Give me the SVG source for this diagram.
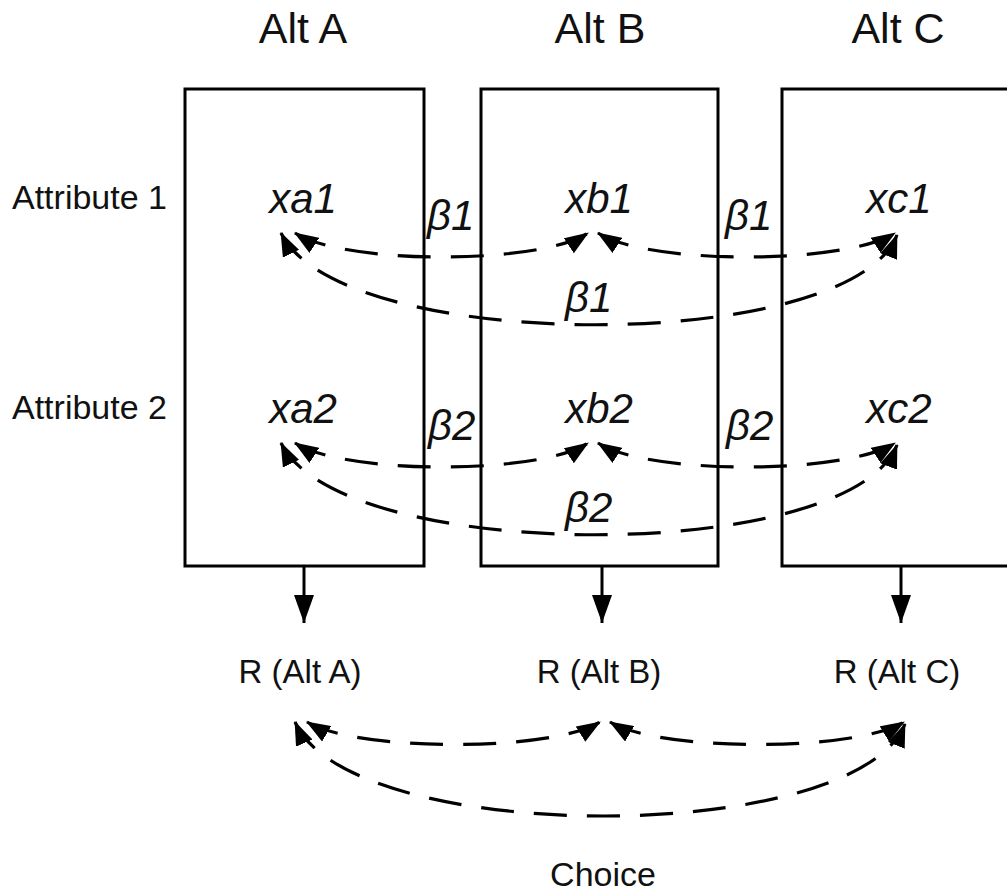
<svg xmlns="http://www.w3.org/2000/svg" width="1007" height="891" viewBox="0 0 1007 891">
<style>
.box{fill:none;stroke:#000;stroke-width:3}
.t{font-family:"Liberation Sans",Arial,sans-serif;fill:#111}
.it{font-family:"Liberation Sans",Arial,sans-serif;font-style:italic;font-size:42px;fill:#111}
.dash{fill:none;stroke:#000;stroke-width:3.2;stroke-dasharray:33 20;marker-start:url(#ah);marker-end:url(#ah)}
.down{fill:none;stroke:#000;stroke-width:3;marker-end:url(#dh)}
</style>
<defs>
<marker id="ah" markerUnits="userSpaceOnUse" markerWidth="24" markerHeight="18" viewBox="0 0 24 18" refX="23" refY="9" orient="auto-start-reverse">
<path d="M0,0 L24,9 L0,18 z" fill="#000"/>
</marker>
<marker id="dh" markerUnits="userSpaceOnUse" markerWidth="28" markerHeight="20" viewBox="0 0 28 20" refX="28" refY="10" orient="auto">
<path d="M0,0 L28,10 L0,20 z" fill="#000"/>
</marker>
</defs>
<rect width="1007" height="891" fill="#fff"/>

<g id="altA">
<text class="t" x="303" y="43" font-size="43" text-anchor="middle">Alt A</text>
<rect class="box" x="185" y="89" width="239" height="477"/>
<text class="it" x="303" y="213" text-anchor="middle">xa1</text>
<text class="it" x="303" y="423" text-anchor="middle">xa2</text>
</g>
<g id="altB">
<text class="t" x="600" y="43" font-size="43" text-anchor="middle">Alt B</text>
<rect class="box" x="481" y="89" width="237" height="477"/>
<text class="it" x="599" y="213" text-anchor="middle">xb1</text>
<text class="it" x="599" y="423" text-anchor="middle">xb2</text>
</g>
<g id="altC">
<text class="t" x="898" y="43" font-size="43" text-anchor="middle">Alt C</text>
<rect class="box" x="782" y="89" width="240" height="477"/>
<text class="it" x="899" y="213" text-anchor="middle">xc1</text>
<text class="it" x="899" y="423" text-anchor="middle">xc2</text>
</g>
<g id="attributes">
<text class="t" x="12" y="209" font-size="34">Attribute 1</text>
<text class="t" x="12" y="419" font-size="34">Attribute 2</text>
</g>
<g id="utilities">
<text class="t" x="300" y="683" font-size="33" text-anchor="middle">R (Alt A)</text>
<text class="t" x="599" y="683" font-size="33" text-anchor="middle">R (Alt B)</text>
<text class="t" x="897" y="683" font-size="33" text-anchor="middle">R (Alt C)</text>
</g>
<g id="choice">
<text class="t" x="603" y="886" font-size="34" text-anchor="middle">Choice</text>
</g>
<g id="betas">
<text class="it" x="427" y="230">β1</text>
<text class="it" x="725" y="230">β1</text>
<text class="it" x="565" y="312">β1</text>
<text class="it" x="428" y="440">β2</text>
<text class="it" x="726" y="440">β2</text>
<text class="it" x="565" y="522">β2</text>
</g>

<g id="connectors">
<path class="dash" d="M295,233 C345,265 540,265 588,233"/>
<path class="dash" d="M598,233 C648,265 845,265 895,233"/>
<path class="dash" d="M281,233 C340,355 850,355 897,235"/>
<path class="dash" d="M295,443 C345,475 540,475 588,443"/>
<path class="dash" d="M598,443 C648,475 845,475 895,443"/>
<path class="dash" d="M281,443 C340,565 850,565 897,445"/>
<path class="dash" d="M307,722 C357,752 552,752 600,722"/>
<path class="dash" d="M610,722 C660,752 855,752 904,722"/>
<path class="dash" d="M295,722 C350,847 855,847 905,724"/>
<line class="down" x1="304" y1="566" x2="304" y2="623"/>
<line class="down" x1="602" y1="566" x2="602" y2="623"/>
<line class="down" x1="901" y1="566" x2="901" y2="623"/>
</g>
</svg>
